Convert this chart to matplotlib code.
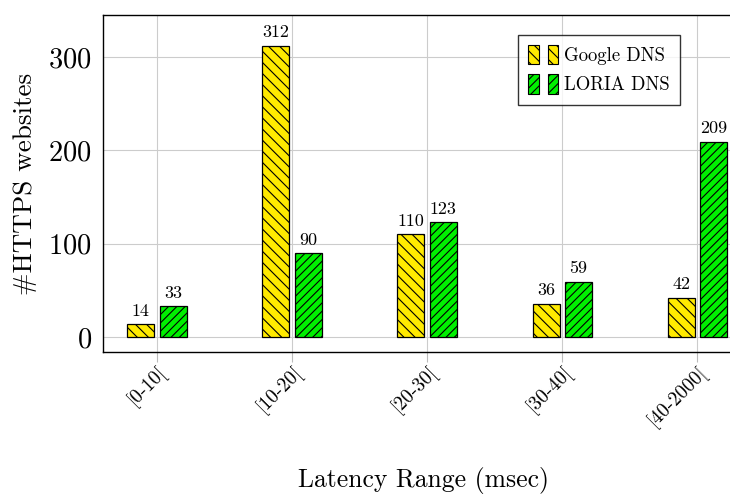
import matplotlib
matplotlib.use("Agg")
import matplotlib.pyplot as plt
import numpy as np
from matplotlib.patches import Patch
from matplotlib.legend_handler import HandlerTuple

plt.rcParams['font.family'] = 'serif'
plt.rcParams['font.serif'] = ['cmr10']
plt.rcParams['mathtext.fontset'] = 'cm'
plt.rcParams['axes.formatter.use_mathtext'] = True
plt.rcParams['hatch.linewidth'] = 0.8

# data
categories = ["[0-10[", "[10-20[", "[20-30[", "[30-40[", "[40-2000["]
google = [14, 312, 110, 36, 42]
loria = [33, 90, 123, 59, 209]
series_names = ["Google DNS", "LORIA DNS"]

yellow = "#FFEA00"
green = "#00F000"

fig = plt.figure(figsize=(7.3, 4.96), dpi=100)
# the original picture is cropped on the right, so the axes run past the edge
ax = fig.add_axes([0.141, 0.290, 0.879, 0.680])

x = np.arange(len(categories))
w = 0.2
b1 = ax.bar(x - 0.12, google, w, color=yellow, edgecolor="black", hatch="\\\\\\", linewidth=0.9, zorder=3)
b2 = ax.bar(x + 0.12, loria, w, color=green, edgecolor="black", hatch="////", linewidth=0.9, zorder=3)

for rects, vals in [(b1, google), (b2, loria)]:
    for r, v in zip(rects, vals):
        ax.text(r.get_x() + r.get_width() / 2, v + 6, str(v), ha="center", va="bottom", fontsize=13)

ax.set_xlim(-0.4, 4.35)
ax.set_ylim(-16, 345)
ax.set_yticks([0, 100, 200, 300])
ax.set_xticks(x)
ax.set_xticklabels(categories, rotation=45, ha="right", rotation_mode="anchor", fontsize=14)
ax.tick_params(axis="y", labelsize=20.5, direction="in", color="#bbbbbb", length=0, pad=8)
ax.tick_params(axis="x", direction="out", color="#bbbbbb", length=7.5, pad=0)
ax.grid(True, color="#cccccc", linewidth=0.8, zorder=0)
ax.set_axisbelow(True)
for s in ax.spines.values():
    s.set_linewidth(1.0)

ax.set_ylabel("#HTTPS websites", fontsize=19.5, labelpad=8)
ax.set_xlabel("Latency Range (msec)", fontsize=18.5)
ax.xaxis.set_label_coords(0.5, -0.34)

h1 = (Patch(facecolor=yellow, edgecolor="black", hatch="\\\\\\", linewidth=0.8),
      Patch(facecolor=yellow, edgecolor="black", hatch="\\\\\\", linewidth=0.8))
h2 = (Patch(facecolor=green, edgecolor="black", hatch="////", linewidth=0.8),
      Patch(facecolor=green, edgecolor="black", hatch="////", linewidth=0.8))
leg = ax.legend([h1, h2], series_names, handler_map={tuple: HandlerTuple(ndivide=None, pad=0.5)},
                loc="upper right", bbox_to_anchor=(0.899, 0.941), borderaxespad=0,
                fontsize=13.5, frameon=True, fancybox=False, edgecolor="black",
                handlelength=1.6, handleheight=1.2, handletextpad=0.3, borderpad=0.55,
                labelspacing=0.5)
leg.get_frame().set_linewidth(1.0)

fig.savefig("out.png", dpi=100)
